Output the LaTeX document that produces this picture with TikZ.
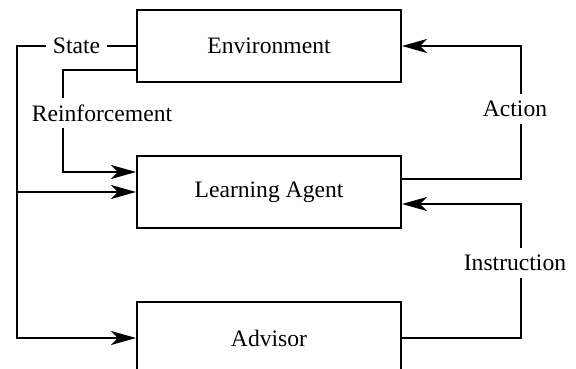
\documentclass[tikz,border=0pt]{standalone}
\usepackage{fontspec}
\setmainfont{Liberation Serif}
\usetikzlibrary{positioning,arrows.meta,calc}

\begin{document}
\begin{tikzpicture}[x=0.5pt, y=-0.5pt, node distance=36pt, font=\fontsize{11.8pt}{14pt}\selectfont,
        block/.style={draw, rectangle, line width=1pt, minimum width=132pt, minimum height=36pt},
        wire/.style={line width=1pt, -{Stealth[length=12.5pt, width=7pt, inset=3.5pt]}},
        lbl/.style={fill=white, inner sep=3.5pt}]
        \useasboundingbox (0,0) rectangle (576,368);

        \node[block] (env) at (269,46) {Environment};
        \node[block, below=of env] (agent) {Learning Agent};
        \node[block, below=of agent] (adv) {Advisor};

        \coordinate (bus) at (17,46);
        \draw[wire] (env.west) -- node[lbl] {State} (bus) |- (adv.west);
        \draw[wire] (bus |- agent.west) -- (agent.west);
        \draw[wire] ($(env.west)+(0,24)$) -| (63,113) node[lbl, xshift=19.5pt] {Reinforcement} |- ($(agent.west)+(0,-20)$);

        \draw[wire] ($(agent.east)+(0,-13)$) -| (521,109) node[lbl, xshift=-3pt] {Action} |- (env.east);
        \draw[wire] (adv.east) -| (521,263) node[lbl, xshift=-3pt] {Instruction} |- ($(agent.east)+(0,12)$);
    \end{tikzpicture}
\end{document}
